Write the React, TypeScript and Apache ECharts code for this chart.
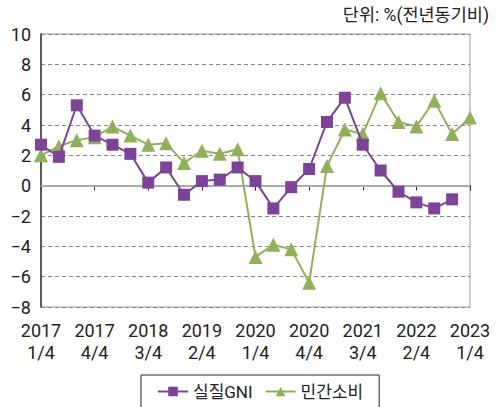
import React, { useEffect, useRef } from "react";
import * as echarts from "echarts";

const quarters = [
  "2017\n1/4", "2017 2/4", "2017 3/4", "2017\n4/4", "2018 1/4", "2018 2/4", "2018\n3/4",
  "2018 4/4", "2019 1/4", "2019\n2/4", "2019 3/4", "2019 4/4", "2020\n1/4", "2020 2/4",
  "2020 3/4", "2020\n4/4", "2021 1/4", "2021 2/4", "2021\n3/4", "2021 4/4", "2022 1/4",
  "2022\n2/4", "2022 3/4", "2022 4/4", "2023\n1/4",
];
const realGNI: (number | null)[] = [
  2.7, 1.9, 5.3, 3.3, 2.7, 2.1, 0.2, 1.2, -0.6, 0.3, 0.4, 1.2, 0.3, -1.5, -0.1,
  1.1, 4.2, 5.8, 2.7, 1.0, -0.4, -1.1, -1.5, -0.9, null,
];
const privateConsumption = [
  2.0, 2.6, 3.0, 3.2, 3.9, 3.3, 2.7, 2.8, 1.5, 2.3, 2.1, 2.4, -4.7, -3.9, -4.2,
  -6.4, 1.3, 3.7, 3.4, 6.1, 4.2, 3.9, 5.6, 3.4, 4.5,
];
const seriesNames = ["실질GNI", "민간소비"];
const unitText = "단위: %(전년동기비)";

const FONT = "Roboto, 'Noto Sans CJK KR', sans-serif";
const PURPLE = "#7d4399";
const GREEN = "#92b05c";

export default function App() {
  const ref = useRef<HTMLDivElement>(null);
  useEffect(() => {
    if (!ref.current) return;
    const chart = echarts.init(ref.current, undefined, { renderer: "svg" });
    chart.setOption({
      animation: false,
      textStyle: { fontFamily: FONT },
      grid: {
        left: 41, right: 26, top: 34, bottom: 100, containLabel: false,
        show: true, borderColor: "#9a9a9a", borderWidth: 1,
      },
      graphic: [
        {
          type: "text", right: 7, top: 6,
          style: { text: unitText, fontSize: 17.5, fontFamily: FONT, fill: "#222" },
        },
      ],
      legend: {
        left: 141, top: 375,
        data: seriesNames,
        itemWidth: 30, itemHeight: 12, itemGap: 12,
        borderColor: "#222", borderWidth: 1,
        padding: [8, 16, 20, 16],
        textStyle: { fontSize: 17, color: "#222", fontFamily: FONT },
      },
      xAxis: {
        type: "category",
        data: quarters,
        boundaryGap: false,
        axisLine: { lineStyle: { color: "#6e6e6e", width: 2 } },
        axisTick: { show: true, interval: 2, length: 5, lineStyle: { color: "#333" } },
        axisLabel: {
          interval: 2, fontSize: 18, color: "#222", margin: 12, lineHeight: 22,
          fontFamily: FONT,
        },
        splitLine: { show: false },
      },
      yAxis: {
        type: "value",
        min: -8, max: 10, interval: 2,
        axisLine: { show: true, lineStyle: { color: "#333", width: 1.5 } },
        axisTick: { show: false },
        axisLabel: {
          fontSize: 18, color: "#222", margin: 10, fontFamily: FONT,
          formatter: (v: number) => String(v).replace("-", "\u2212"),
        },
        splitLine: {
          show: true,
          lineStyle: { color: "#888", type: [4, 3] },
        },
      },
      series: [
        {
          name: seriesNames[0], type: "line", data: realGNI,
          symbol: "rect", symbolSize: 12, showAllSymbol: true,
          lineStyle: { color: PURPLE, width: 2 },
          itemStyle: { color: PURPLE },
          z: 3,
        },
        {
          name: seriesNames[1], type: "line", data: privateConsumption,
          symbol: "triangle", symbolSize: 14, showAllSymbol: true,
          lineStyle: { color: GREEN, width: 2 },
          itemStyle: { color: GREEN },
          z: 2,
          markLine: {
            silent: true, symbol: "none", label: { show: false },
            lineStyle: { color: "#aaa", type: "solid", width: 2 },
            data: [{ yAxis: 0 }],
            z: 1,
          },
        },
      ],
    });
    return () => chart.dispose();
  }, []);
  return <div ref={ref} style={{ width: 496, height: 407, position: "absolute", left: 0, top: 0 }} />;
}
